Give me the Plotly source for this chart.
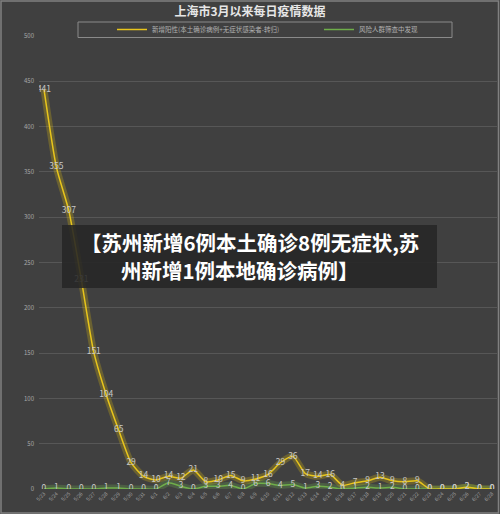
import plotly.graph_objects as go

dates = ["5/23","5/24","5/25","5/26","5/27","5/28","5/29","5/30","5/31",
         "6/1","6/2","6/3","6/4","6/5","6/6","6/7","6/8","6/9","6/10",
         "6/11","6/12","6/13","6/14","6/15","6/16","6/17","6/18","6/19","6/20",
         "6/21","6/22","6/23","6/24","6/25","6/26","6/27","6/28"]
new_positive = [441,355,307,231,151,104,65,29,14,
                10,14,12,21,8,10,15,9,11,16,
                29,36,17,14,16,4,7,9,13,9,
                8,9,0,0,0,2,0,0]
screening = [0,1,0,0,0,1,1,0,0,
             0,7,3,0,3,3,4,0,6,6,
             4,5,1,3,2,0,1,2,1,2,
             0,0,0,0,0,2,0,0]
y_ticks = [0,50,100,150,200,250,300,350,400,450,500]

name1 = "新增阳性(本土确诊病例+无症状感染者-转归)"
name2 = "风险人群筛查中发现"
FONT = "Noto Sans CJK SC"
BG = "#404040"

fig = go.Figure()
# glow layers
fig.add_trace(go.Scatter(x=dates, y=new_positive, mode="lines", line=dict(color="rgba(255,215,0,0.22)", width=7, shape="spline", smoothing=0.6), showlegend=False, hoverinfo="skip"))
fig.add_trace(go.Scatter(x=dates, y=screening, mode="lines", line=dict(color="rgba(120,200,80,0.22)", width=7, shape="spline", smoothing=0.6), showlegend=False, hoverinfo="skip"))
# main lines
fig.add_trace(go.Scatter(x=dates, y=screening, mode="lines+text", name=name2,
                         line=dict(color="#6fae4a", width=1.5, shape="spline", smoothing=0.6),
                         text=[str(v) for v in screening], textposition="middle center",
                         textfont=dict(family=FONT, size=8.5, color="#c8c8c8")))
fig.add_trace(go.Scatter(x=dates, y=new_positive, mode="lines+text", name=name1,
                         line=dict(color="#e8c51c", width=1.5, shape="spline", smoothing=0.6),
                         text=[str(v) for v in new_positive], textposition="middle center",
                         textfont=dict(family=FONT, size=8.5, color="#c8c8c8")))

L, R, T, B = 39, 3, 36, 25
W, H = 500, 514
pw, ph = W - L - R, H - T - B
def px(xp): return (xp - L) / pw
def py(yp): return 1 - (yp - T) / ph

shapes = [
    # legend box
    dict(type="rect", xref="paper", yref="paper", x0=px(78), x1=px(452), y0=py(37.5), y1=py(22),
         line=dict(color="#8a8a8a", width=1), fillcolor="rgba(0,0,0,0)", layer="above"),
    # outer border
    dict(type="rect", xref="paper", yref="paper", x0=px(1), x1=px(498.5), y0=py(513), y1=py(1),
         line=dict(color="#808080", width=1.5), fillcolor="rgba(0,0,0,0)", layer="below"),
    # overlay banner
    dict(type="rect", xref="paper", yref="paper", x0=px(62), x1=px(437), y0=py(288), y1=py(225),
         line=dict(width=0), fillcolor="rgba(38,38,38,0.88)", layer="above"),
]

annotations = [
    dict(xref="paper", yref="paper", x=px(250), y=py(242), text="【苏州新增6例本土确诊8例无症状,苏",
         showarrow=False, font=dict(family=FONT, size=20.5, color="white", weight="bold"), xanchor="center", yanchor="middle"),
    dict(xref="paper", yref="paper", x=px(240), y=py(270), text="州新增1例本地确诊病例】",
         showarrow=False, font=dict(family=FONT, size=20.5, color="white", weight="bold"), xanchor="center", yanchor="middle"),
]

fig.update_layout(
    width=W, height=H,
    margin=dict(l=L, r=R, t=T, b=B, autoexpand=False),
    paper_bgcolor=BG, plot_bgcolor=BG,
    title=dict(text="上海市3月以来每日疫情数据", x=0.5, xanchor="center", y=1 - 12/H, yanchor="middle",
               font=dict(family=FONT, size=12, color="#e6e6e6", weight="bold")),
    legend=dict(orientation="h", x=px(112), y=py(29.5), xanchor="left", yanchor="middle",
                bgcolor="rgba(0,0,0,0)", font=dict(family=FONT, size=6.5, color="#b0b0b0"),
                entrywidth=162, entrywidthmode="pixels", traceorder="reversed", itemwidth=30),
    xaxis=dict(type="category", range=[-0.4, 36.4], tickangle=-45, showgrid=False, zeroline=False,
               tickfont=dict(family=FONT, size=5, color="#a8a8a8"), ticks="", showline=False),
    yaxis=dict(range=[0, 500], tickvals=y_ticks, showgrid=True, gridcolor="#575757", gridwidth=1,
               zeroline=False, tickfont=dict(family=FONT, size=6, color="#a8a8a8"), ticks="", ticklabelstandoff=4),
    shapes=shapes, annotations=annotations,
    showlegend=True,
)

fig.write_html("out.html", config={"displayModeBar": False},
               post_script="document.body.style.margin='0';document.body.style.overflow='hidden';")
